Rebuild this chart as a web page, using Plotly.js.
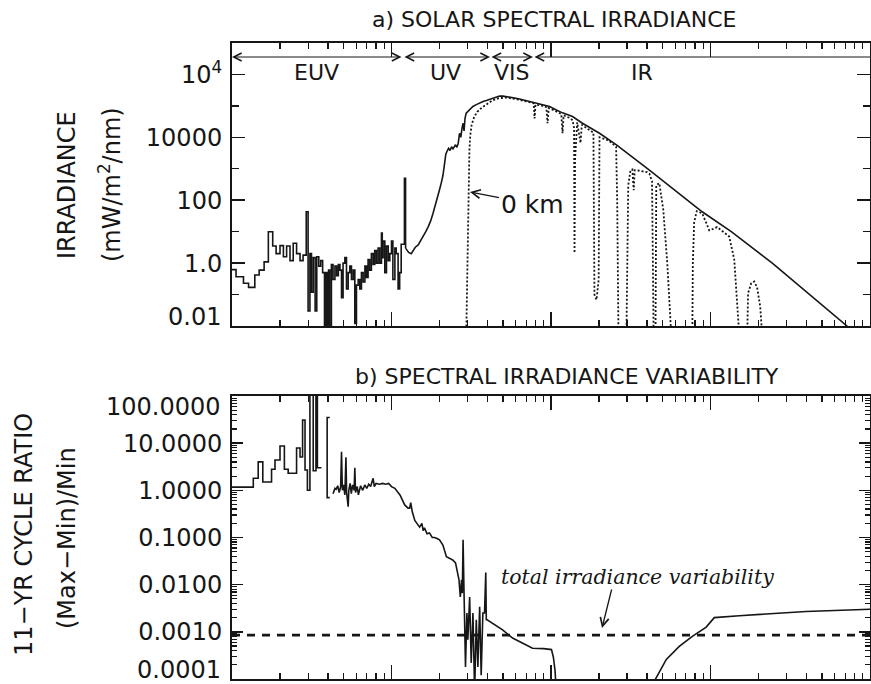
<!DOCTYPE html>
<html><head><meta charset="utf-8">
<script src="https://cdn.plot.ly/plotly-3.0.1.min.js"></script>
<style>html,body{margin:0;padding:0;background:#fff;}#chart{width:871px;height:684px;}</style>
</head><body><div id="chart"></div>
<script>
// ---------- DATA (wavelength in nm) ----------
// a) top of atmosphere irradiance, binned EUV part (step)
const euvTopWl = [10, 10.6, 11.8, 12.7, 13.9, 14.8, 15.9, 16.9, 18.0, 18.9, 20.0, 21.0, 22.0, 23.1, 24.2, 25.4, 26.7, 27.9, 29.2, 30.0, 30.8, 31.5, 32.3, 33.2, 34.0, 35.0, 36.0, 37.0, 38.0, 38.6, 39.5, 40.3, 41.0, 42.0, 43.0, 44.2, 45.3, 46.4, 47.5, 48.6, 49.7, 51.0, 52.2, 53.5, 54.8, 56.1, 57.5, 58.9, 60.3, 61.8, 63.3, 64.8, 66.4, 68.1, 69.7, 71.3, 73.0, 74.8, 76.7, 78.5, 80.4, 82.4, 84.4, 86.5, 87.5, 88.6, 90.8, 93.0, 95.3, 97.6, 100, 102, 105, 107, 110, 112.5, 115, 120.5, 122.5];
const euvTopIrr = [0.62, 0.37, 0.23, 0.17, 0.42, 0.6, 1.1, 10, 3.5, 2.0, 3.6, 1.6, 3.5, 1.2, 4.3, 2.0, 1.2, 1.8, 43, 0.03, 2.0, 0.12, 1.5, 0.03, 1.6, 0.8, 1.2, 0.5, 0.01, 0.5, 0.01, 0.6, 0.008, 0.9, 0.3, 0.8, 0.4, 0.9, 0.6, 0.08, 1.0, 1.5, 0.15, 0.5, 0.8, 0.3, 0.6, 0.012, 0.2, 0.3, 0.15, 0.5, 0.25, 0.8, 0.35, 1.3, 0.6, 2.0, 0.9, 2.5, 1.0, 3.0, 1.0, 9, 1.5, 5.0, 0.5, 3.5, 1.2, 2.0, 5.0, 0.3, 3.0, 2.0, 0.15, 0.5, 4, 500, 3.0];
// a) top of atmosphere irradiance, UV-IR
const topWl = [122.5, 128, 133, 136, 141, 147, 152, 158, 164, 170, 176, 182, 187, 191, 196, 200, 205, 210, 214, 219, 224, 228, 233, 238, 243, 248, 252, 257, 262, 267, 272, 277, 281, 285, 289, 294, 300, 309, 324, 340, 357, 375, 393, 412, 432, 454, 476, 500, 524, 550, 590, 635, 700, 808, 900, 980, 1050, 1180, 1365, 1574, 2014, 2572, 4140, 8870, 13500, 24400, 71800, 100000];
const topIrr = [3.0, 2.2, 2.0, 2.4, 3.2, 3.8, 5.0, 6.9, 10, 14.5, 22, 38, 60, 100, 150, 215, 350, 600, 1200, 2900, 3800, 4500, 3800, 5000, 4300, 5200, 5800, 4800, 6500, 13500, 10000, 20000, 28000, 16000, 40000, 59000, 65000, 74000, 96000, 110000, 126000, 138000, 148000, 162000, 175000, 190000, 207000, 205000, 200000, 190000, 178000, 166000, 148000, 126000, 110000, 95000, 80000, 60000, 46000, 28000, 13500, 5800, 910, 43, 10, 1.0, 0.01, 0.0027];
// a) irradiance at 0 km (surface)
const surfWl = [294, 296, 299, 302, 305, 308, 312, 318, 330, 345, 370, 400, 430, 470, 520, 600, 700, 770, 780, 789, 800, 900, 935, 951, 968, 1050, 1160, 1181, 1200, 1300, 1365, 1395, 1404, 1415, 1460, 1531, 1560, 1800, 1845, 1872, 1928, 1990, 2014, 2300, 2560, 2600, 2648, 2971, 3000, 3050, 3150, 3236, 3300, 3350, 3450, 3700, 4000, 4137, 4300, 4400, 4520, 4571, 4775, 5058, 5358, 5675, 7691, 7750, 7900, 8200, 8879, 9400, 9820, 10300, 11000, 12700, 13100, 14090, 14600, 15150, 17000, 17200, 18000, 18800, 19600, 20500, 21100];
const surfIrr = [0.004, 0.05, 1.5, 40, 600, 4000, 12000, 25000, 45000, 65000, 90000, 120000, 150000, 175000, 185000, 165000, 140000, 125000, 115000, 40000, 110000, 100000, 90000, 28000, 85000, 72000, 55000, 13500, 50000, 42000, 35000, 20000, 2.1, 2000, 30000, 6600, 25000, 15000, 14000, 0.1, 0.068, 0.3, 10000, 8000, 5000, 100, 0.005, 0.005, 1, 300, 900, 950, 210, 900, 900, 850, 780, 700, 400, 0.005, 0.005, 300, 350, 50, 1, 0.005, 0.005, 1, 20, 45, 38, 19, 11, 12, 14, 8, 7, 1.3, 0.11, 0.005, 0.005, 0.11, 0.23, 0.26, 0.17, 0.041, 0.005];

// b) 11-yr cycle ratio, binned EUV part (step)
const varStepWl = [10, 13.6, 14.6, 15.6, 17.7, 18.6, 20.0, 21.3, 22.5, 25.4, 26.7, 27.7, 28.7, 29.7, 30.8, 32.3, 33.6, 34.3, 36.4];
const varStepVal = [1.17, 1.8, 4.0, 1.5, 2.8, 4.4, 8.7, 2.8, 2.3, 7.9, 5.1, 31, 2.7, 1.0, 150, 2.6, 150, 3.0, 3.0];
const varBracketWl = [41, 39.5, 39.5, 41];
const varBracketVal = [35, 35, 0.7, 0.7];
const varWl = [43, 44.2, 45, 46, 47, 48, 48.6, 49.2, 50, 51, 51.8, 52.3, 53.5, 54, 55, 56, 57, 58.3, 58.9, 59.5, 61, 62, 64, 66, 68, 70, 72, 74, 76.7, 78, 80, 84, 88, 92, 96, 100, 105, 113, 121, 127, 130, 132, 135, 140, 150, 155, 158, 161, 167, 173, 180, 186, 193, 200, 210, 221, 232, 243, 252, 265, 270, 275, 278, 281, 285, 288, 291, 297, 301, 309, 316, 324, 332, 340, 348, 357, 365, 374, 383, 390, 393, 398, 450, 497, 574, 663, 766, 900, 977, 1007, 1035, 1060, 1082];
const varVal = [0.85, 1.1, 1.05, 1.25, 0.9, 1.2, 6.6, 1.0, 1.3, 0.8, 5.0, 0.9, 0.45, 1.0, 1.4, 0.85, 1.3, 1.0, 3.0, 0.9, 1.2, 0.8, 1.25, 1.0, 1.3, 1.1, 1.35, 1.2, 1.8, 1.2, 1.4, 1.35, 1.4, 1.35, 1.4, 1.2, 1.1, 0.8, 0.49, 0.42, 0.42, 0.55, 0.35, 0.23, 0.166, 0.2, 0.14, 0.16, 0.12, 0.125, 0.10, 0.10, 0.095, 0.089, 0.069, 0.039, 0.036, 0.033, 0.029, 0.0126, 0.0055, 0.0126, 0.0066, 0.089, 0.0066, 0.0018, 0.00018, 0.0025, 0.00068, 0.0055, 0.00022, 0.0025, 0.00005, 0.0018, 0.00018, 0.0034, 0.00012, 0.0025, 0.0025, 0.018, 0.0018, 0.0018, 0.0014, 0.0011, 0.00074, 0.00057, 0.00045, 0.00044, 0.00043, 0.00042, 0.00029, 0.00015, 0.00005];
const varIrWl = [4446, 5284, 6371, 7690, 9400, 10560, 15150, 24380, 39720, 100000];
const varIrVal = [0.00009, 0.00026, 0.00049, 0.0008, 0.00126, 0.002, 0.0022, 0.00245, 0.0027, 0.003];
// total irradiance variability level
const tsiWl = [10, 100000];
const tsiVal = [0.00085, 0.00085];

// tick labels
const topTickVals = [0.01, 1, 100, 1e4, 1e6];
const topTickText = ['', '1.0', '100', '10000', '10<sup>4</sup>'];
const botTickVals = [1e-4, 1e-3, 1e-2, 1e-1, 1, 10, 100];
const botTickText = ['', '0.0010', '0.0100', '0.1000', '1.0000', '10.0000', ''];

// ---------- LAYOUT HELPERS ----------
const L = 232, R = 870, T = 43, B = 679;
const px = v => (v - L) / (R - L);
const py = v => (B - v) / (B - T);
function minorLog(lo, hi){ const v=[]; for(let e=lo;e<hi;e++) for(let d=2;d<=9;d++) v.push(d*Math.pow(10,e)); return v; }
const INK = '#161616';
const tickFont = {family:'DejaVu Sans', size:24, color:INK};

function xAxis(anchor){
  return {type:'log', range:[1,5], anchor:anchor, domain:[0,1], showline:true, linecolor:INK, linewidth:2,
    mirror:'ticks', ticks:'inside', ticklen:14, tickwidth:1.5, tickcolor:INK,
    tickmode:'array', tickvals:[10,100,1000,10000,100000], showticklabels:false,
    showgrid:false, zeroline:false,
    minor:{ticks:'inside', ticklen:6, tickwidth:1.2, tickcolor:INK, tickmode:'array', tickvals:minorLog(1,5), showgrid:false}};
}

const blk = {color:INK, width:1.6};
const traces = [
  {x:euvTopWl, y:euvTopIrr, xaxis:'x', yaxis:'y', mode:'lines', line:Object.assign({shape:'hv'}, blk)},
  {x:topWl, y:topIrr, xaxis:'x', yaxis:'y', mode:'lines', line:blk},
  {x:surfWl, y:surfIrr, xaxis:'x', yaxis:'y', mode:'lines', line:{color:INK, width:1.8, dash:'2px,2px'}},
  {x:varStepWl, y:varStepVal, xaxis:'x2', yaxis:'y2', mode:'lines', line:Object.assign({shape:'hv'}, blk)},
  {x:varBracketWl, y:varBracketVal, xaxis:'x2', yaxis:'y2', mode:'lines', line:blk},
  {x:varWl, y:varVal, xaxis:'x2', yaxis:'y2', mode:'lines', line:blk},
  {x:varIrWl, y:varIrVal, xaxis:'x2', yaxis:'y2', mode:'lines', line:blk},
  {x:tsiWl, y:tsiVal, xaxis:'x2', yaxis:'y2', mode:'lines', line:{color:INK, width:2.6, dash:'8px,7px'}}
];

const ann = [];
function txt(t, x, y, size, extra){ ann.push(Object.assign({text:t, xref:'paper', yref:'paper', x:px(x), y:py(y), xanchor:'center', yanchor:'middle', showarrow:false, font:{family:'DejaVu Sans', size:size, color:INK}}, extra||{})); }
txt('a) SOLAR SPECTRAL IRRADIANCE', 554, 19, 22);
txt('b) SPECTRAL IRRADIANCE VARIABILITY', 567, 376, 22);
txt('EUV', 316, 72, 22);
txt('UV', 445, 72, 22);
txt('VIS', 512, 72, 22);
txt('IR', 642, 72, 22);
txt('IRRADIANCE', 67, 185, 24, {textangle:-90});
txt('(mW/m<sup>2</sup>/nm)', 110, 185, 24, {textangle:-90});
txt('11−YR CYCLE RATIO', 24, 535, 24, {textangle:-90});
txt('(Max−Min)/Min', 67, 538, 24, {textangle:-90});
txt('<i>total irradiance variability</i>', 637, 577, 20.5, {font:{family:'DejaVu Serif', size:20.5, color:INK}});
// end tick labels, nudged inside the frame like the original
[['0.01',317],['100.0000',407],['0.0001',670]].forEach(function(p){
  ann.push({text:p[0], xref:'paper', yref:'paper', x:0, y:py(p[1]), xanchor:'right', yanchor:'middle', xshift:-9, showarrow:false, font:tickFont});
});
// region arrows in the top band
function seg(tipX, tailX, side){ ann.push({text:'', xref:'paper', yref:'paper', x:px(tipX), y:py(57), ax:tailX-tipX, ay:0, showarrow:true, arrowhead:5, startarrowhead:5, arrowside:side, arrowsize:1.3, startarrowsize:1.3, arrowwidth:1.2, arrowcolor:INK}); }
seg(232, 403, 'end+start');
seg(490, 403, 'end+start');
seg(533, 490, 'end+start');
seg(870, 533, 'start');
// 0 km label with arrow
ann.push({text:'0 km', xref:'paper', yref:'paper', x:px(470), y:py(192), ax:62, ay:12, showarrow:true, arrowhead:5, arrowsize:1.3, arrowwidth:1.3, arrowcolor:INK, font:{family:'DejaVu Sans', size:25, color:INK}});
// arrow to the dashed line
ann.push({text:'', xref:'paper', yref:'paper', x:px(602), y:py(628), ax:10, ay:-40, showarrow:true, arrowhead:5, arrowsize:1.3, arrowwidth:1.3, arrowcolor:INK});

const layout = {
  width:871, height:684, margin:{l:L, r:871-R, t:T, b:684-B},
  paper_bgcolor:'#fff', plot_bgcolor:'#fff', showlegend:false,
  xaxis: xAxis('y'),
  xaxis2: xAxis('y2'),
  yaxis: {type:'log', range:[-2,7], domain:[0.555,1], anchor:'x', showline:true, linecolor:INK, linewidth:2,
    mirror:'ticks', ticks:'inside', ticklen:13, tickwidth:1.5, tickcolor:INK,
    tickmode:'array', tickvals:topTickVals, ticktext:topTickText, tickfont:tickFont, ticklabelstandoff:3,
    showgrid:false, zeroline:false,
    minor:{ticks:'inside', ticklen:7, tickwidth:1.3, tickcolor:INK, tickmode:'array', tickvals:[0.1,10,1000,1e5], showgrid:false}},
  yaxis2: {type:'log', range:[-4,2], domain:[0,0.445], anchor:'x2', showline:true, linecolor:INK, linewidth:2,
    mirror:'ticks', ticks:'inside', ticklen:11, tickwidth:1.5, tickcolor:INK,
    tickmode:'array', tickvals:botTickVals, ticktext:botTickText, tickfont:tickFont, ticklabelstandoff:3,
    showgrid:false, zeroline:false,
    minor:{ticks:'inside', ticklen:5, tickwidth:1.2, tickcolor:INK, tickmode:'array', tickvals:minorLog(-4,2), showgrid:false}},
  annotations: ann
};
Plotly.newPlot('chart', traces, layout, {staticPlot:true, displayModeBar:false});
</script></body></html>
